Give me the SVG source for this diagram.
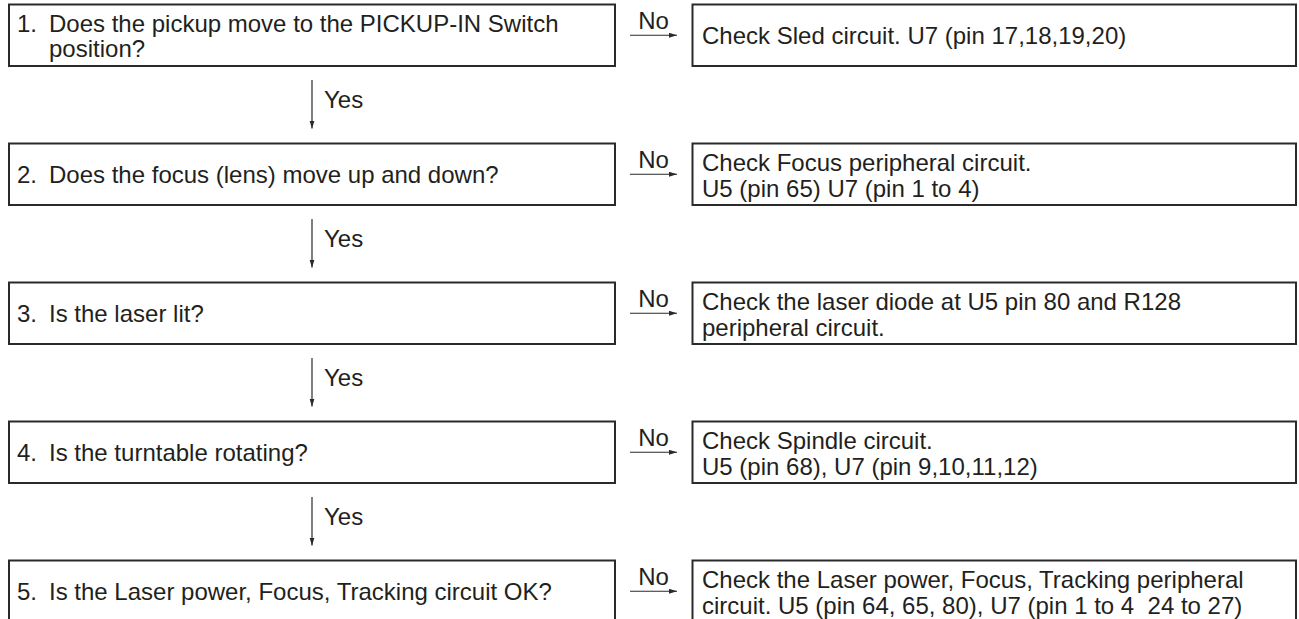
<svg xmlns="http://www.w3.org/2000/svg" width="1299" height="619" viewBox="0 0 1299 619">
<style>
.box{fill:#fff;stroke:#2a2a2a;stroke-width:2}
.t{font-family:"Liberation Sans",Arial,Helvetica,sans-serif;font-size:24px;fill:#231f20}
.c{stroke:#2a2a2a;stroke-width:1.2;fill:none}
</style>
<defs>
<marker id="ah" markerUnits="userSpaceOnUse" markerWidth="9" markerHeight="6" refX="8" refY="2.5" orient="auto"><path d="M0,0 L8,2.5 L0,5 z" fill="#2a2a2a"/></marker>
</defs>
<rect width="1299" height="619" fill="#fff"/>
<g id="q1"><rect class="box" x="9" y="4.5" width="606" height="61.5"/><text class="t"><tspan x="17" y="31.7">1.</tspan><tspan x="49" y="31.7">Does the pickup move to the PICKUP-IN Switch</tspan></text><text class="t" x="49" y="57.2">position?</text></g>
<g id="a1"><rect class="box" x="692.5" y="4.5" width="603.5" height="61.5"/><text class="t" x="702" y="44">Check Sled circuit. U7 (pin 17,18,19,20)</text></g>
<g id="q2"><rect class="box" x="9" y="143.5" width="606" height="61.5"/><text class="t"><tspan x="17" y="183.3">2.</tspan><tspan x="49" y="183.3">Does the focus (lens) move up and down?</tspan></text></g>
<g id="a2"><rect class="box" x="692.5" y="143.5" width="603.5" height="61.5"/><text class="t" x="702" y="170.5">Check Focus peripheral circuit.</text><text class="t" x="702" y="196.7">U5 (pin 65) U7 (pin 1 to 4)</text></g>
<g id="q3"><rect class="box" x="9" y="282.5" width="606" height="61.5"/><text class="t"><tspan x="17" y="322.3">3.</tspan><tspan x="49" y="322.3">Is the laser lit?</tspan></text></g>
<g id="a3"><rect class="box" x="692.5" y="282.5" width="603.5" height="61.5"/><text class="t" x="702" y="309.5">Check the laser diode at U5 pin 80 and R128</text><text class="t" x="702" y="335.7">peripheral circuit.</text></g>
<g id="q4"><rect class="box" x="9" y="421.5" width="606" height="61.5"/><text class="t"><tspan x="17" y="461.3">4.</tspan><tspan x="49" y="461.3">Is the turntable rotating?</tspan></text></g>
<g id="a4"><rect class="box" x="692.5" y="421.5" width="603.5" height="61.5"/><text class="t" x="702" y="448.5">Check Spindle circuit.</text><text class="t" x="702" y="474.7">U5 (pin 68), U7 (pin 9,10,11,12)</text></g>
<g id="q5"><rect class="box" x="9" y="560.5" width="606" height="64"/><text class="t"><tspan x="17" y="600.3">5.</tspan><tspan x="49" y="600.3">Is the Laser power, Focus, Tracking circuit OK?</tspan></text></g>
<g id="a5"><rect class="box" x="692.5" y="560.5" width="603.5" height="64"/><text class="t" x="702" y="587.5">Check the Laser power, Focus, Tracking peripheral</text><text class="t" x="702" y="613.7">circuit. U5 (pin 64, 65, 80), U7 (pin 1 to 4&#160; 24 to 27)</text></g>
<g id="connectors">
<path class="c" d="M630,35.25 H677" marker-end="url(#ah)"/>
<path class="c" d="M630,174.25 H677" marker-end="url(#ah)"/>
<path class="c" d="M630,313.25 H677" marker-end="url(#ah)"/>
<path class="c" d="M630,452.25 H677" marker-end="url(#ah)"/>
<path class="c" d="M630,591.25 H677" marker-end="url(#ah)"/>
<path class="c" d="M312,80 V128.5" marker-end="url(#ah)"/>
<path class="c" d="M312,219 V267.5" marker-end="url(#ah)"/>
<path class="c" d="M312,358 V406.5" marker-end="url(#ah)"/>
<path class="c" d="M312,497 V545.5" marker-end="url(#ah)"/>
<g class="t" text-anchor="middle">
<text x="653.5" y="29.25">No</text>
<text x="653.5" y="168.25">No</text>
<text x="653.5" y="307.25">No</text>
<text x="653.5" y="446.25">No</text>
<text x="653.5" y="585.25">No</text>
</g>
<g class="t">
<text x="324" y="108">Yes</text>
<text x="324" y="247">Yes</text>
<text x="324" y="386">Yes</text>
<text x="324" y="525">Yes</text>
</g>
</g>
</svg>
